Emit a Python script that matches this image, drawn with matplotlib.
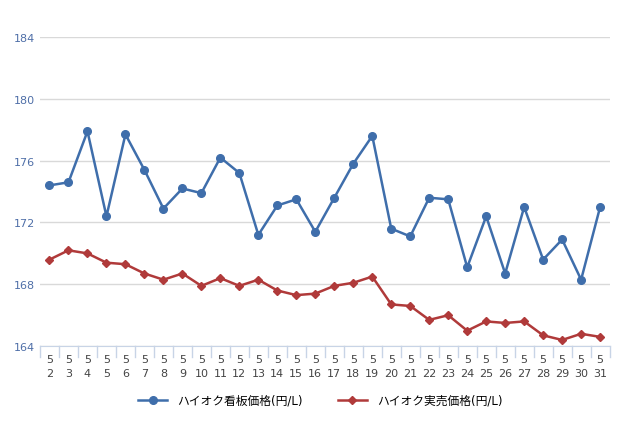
import matplotlib
matplotlib.use("Agg")
import matplotlib.pyplot as plt

days = list(range(2, 32))
months = [5] * len(days)
signboard = [174.4, 174.6, 177.9, 172.4, 177.7, 175.4, 172.9, 174.2, 173.9, 176.2,
             175.2, 171.2, 173.1, 173.5, 171.4, 173.6, 175.8, 177.6, 171.6, 171.1,
             173.6, 173.5, 169.1, 172.4, 168.7, 173.0, 169.6, 170.9, 168.3, 173.0]
actual = [169.6, 170.2, 170.0, 169.4, 169.3, 168.7, 168.3, 168.7, 167.9, 168.4,
          167.9, 168.3, 167.6, 167.3, 167.4, 167.9, 168.1, 168.5, 166.7, 166.6,
          165.7, 166.0, 165.0, 165.6, 165.5, 165.6, 164.7, 164.4, 164.8, 164.6]
yticks = [164, 168, 172, 176, 180, 184]

plt.rcParams["font.family"] = ["DejaVu Sans", "Noto Sans CJK JP"]
fig = plt.figure(figsize=(6.4, 4.27), dpi=100)
ax = fig.add_axes([0.0625, 0.187, 0.89, 0.724])
x = list(range(len(days)))
ax.plot(x, signboard, color="#3f6eab", marker="o", markersize=5.5, lw=1.8, label="ハイオク看板価格(円/L)")
ax.plot(x, actual, color="#b03a3a", marker="D", markersize=4, lw=1.8, label="ハイオク実売価格(円/L)")
ax.set_ylim(164, 184)
ax.set_xlim(-0.5, len(days) - 0.5)
ax.set_yticks(yticks)
ax.set_xticks(x)
ax.set_xticklabels([f"{m}\n{d}" for m, d in zip(months, days)], fontsize=8, color="#444444", linespacing=1.5)
ax.tick_params(axis="y", labelsize=8, colors="#4f6fa8", length=0)
ax.tick_params(axis="x", length=0, pad=6)
ax.grid(axis="y", color="#d9d9d9", lw=1)
ax.set_axisbelow(True)
for s in ["top", "right", "left"]:
    ax.spines[s].set_visible(False)
ax.spines["bottom"].set_color("#c8d4e6")
for xi in [i - 0.5 for i in range(len(days) + 1)]:
    ax.plot([xi, xi], [164, 163.3], color="#c8d4e6", lw=1, clip_on=False)
fig.legend(loc="lower center", bbox_to_anchor=(0.5, 0.02), ncol=2, frameon=False, fontsize=8.5, handlelength=2.5, columnspacing=3)
fig.savefig("out.png", dpi=100)
